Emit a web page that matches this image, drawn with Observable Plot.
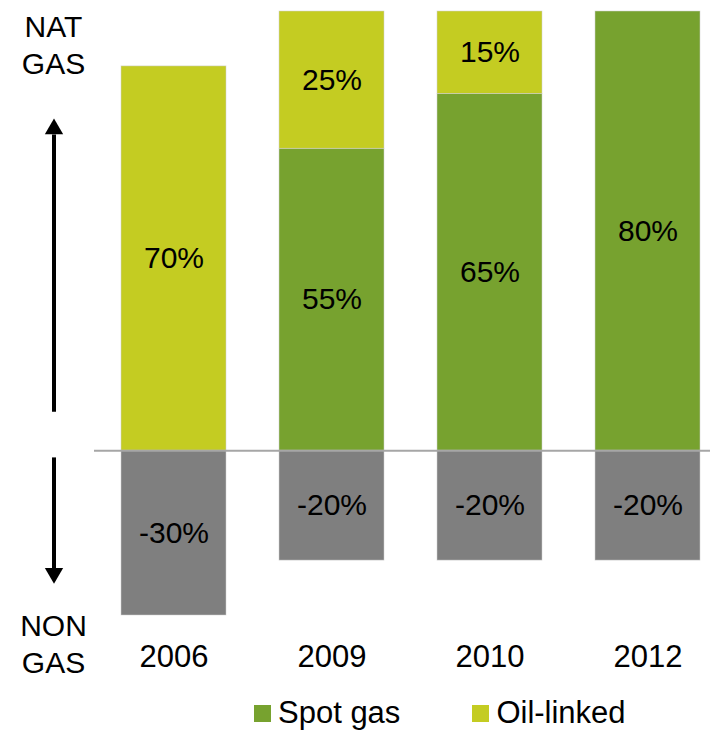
<!DOCTYPE html>
<html>
<head>
<meta charset="utf-8">
<script src="https://cdn.jsdelivr.net/npm/d3@7"></script>
<script src="https://cdn.jsdelivr.net/npm/@observablehq/plot@0.6"></script>
<style>
  html, body { margin: 0; padding: 0; background: #fff; }
  body { width: 710px; height: 731px; overflow: hidden; font-family: "Liberation Sans", Arial, sans-serif; }
  #chart svg { display: block; }
  #legend { display: flex; align-items: center; height: 46px; padding-left: 254px; font-size: 31px; color: #000; }
  #legend .item { display: flex; align-items: center; }
  #legend .sw { width: 17px; height: 17px; margin-right: 7px; }
</style>
</head>
<body>
<div id="chart"></div>
<div id="legend"></div>
<script>
// Data
const years = ["2006", "2009", "2010", "2012"];
const spotGas = [0, 55, 65, 80];
const oilLinked = [70, 25, 15, 0];
const nonGas = [-30, -20, -20, -20];
const seriesNames = ["Spot gas", "Oil-linked", "Non gas"];
const seriesColors = ["#77a22f", "#c4cc22", "#7f7f7f"];
const legendNames = ["Spot gas", "Oil-linked"];
const topLabel = "NAT\nGAS";
const bottomLabel = "NON\nGAS";
// arrow annotation extents (in % units)
const upArrow = {from: 7, to: 57.5, head: 58.6};
const downArrow = {from: -1.3, to: -21.8, head: -22.3};

const rows = years.flatMap((yr, i) => [
  {year: yr, type: "Spot gas", value: spotGas[i]},
  {year: yr, type: "Oil-linked", value: oilLinked[i]},
  {year: yr, type: "Non gas", value: nonGas[i]}
]).filter(d => d.value !== 0);

const stackOpts = {x: "year", y: "value", z: "type", order: seriesNames};

const chart = Plot.plot({
  width: 710,
  height: 690,
  marginTop: 11,
  marginBottom: 75,
  marginLeft: 120,
  marginRight: 8,
  style: {fontFamily: "'Liberation Sans', Arial, sans-serif", fontSize: "30px", background: "#fff"},
  x: {domain: years, paddingInner: 0.333, paddingOuter: 0, axis: null, label: null},
  y: {domain: [-30, 80], axis: null, label: null},
  color: {domain: seriesNames, range: seriesColors},
  marks: [
    Plot.barY(rows, {...stackOpts, fill: "type", stroke: "#d0d0d0", strokeWidth: 0.75, strokeOpacity: 0.7}),
    Plot.ruleY([0], {stroke: "#a6a6a6", strokeWidth: 2, insetLeft: -26, insetRight: -8}),
    Plot.text(rows, Plot.stackY({...stackOpts, text: d => d.value + "%", fill: "#000", fontSize: 30})),
    Plot.axisX({tickSize: 0, tickPadding: 29, fontSize: 31, fill: "#000", label: null}),
    // annotations
    Plot.text([topLabel], {frameAnchor: "top-left", textAnchor: "middle", lineAnchor: "top", dx: -67, dy: -1, lineHeight: 1.23, fontSize: 30, fill: "#000"}),
    Plot.text([bottomLabel], {frameAnchor: "bottom-left", textAnchor: "middle", lineAnchor: "top", dx: -67, dy: -6, lineHeight: 1.23, fontSize: 30, fill: "#000"}),
    Plot.ruleX([years[0]], {y1: upArrow.from, y2: upArrow.to, dx: -120, stroke: "#000", strokeWidth: 4}),
    Plot.dot([years[0]], {x: d => d, y: upArrow.head, symbol: "triangle", r: 6.8, fill: "#000", stroke: "none", dx: -120}),
    Plot.ruleX([years[0]], {y1: downArrow.from, y2: downArrow.to, dx: -120, stroke: "#000", strokeWidth: 4}),
    Plot.dot([years[0]], {x: d => d, y: downArrow.head, symbol: "triangle", rotate: 180, r: 6.8, fill: "#000", stroke: "none", dx: -120})
  ]
});
document.getElementById("chart").appendChild(chart);

const legend = document.getElementById("legend");
legendNames.forEach((name, i) => {
  const item = document.createElement("div");
  item.className = "item";
  if (i > 0) item.style.marginLeft = "72px";
  const sw = document.createElement("div");
  sw.className = "sw";
  sw.style.background = seriesColors[seriesNames.indexOf(name)];
  const label = document.createElement("span");
  label.textContent = name;
  item.appendChild(sw);
  item.appendChild(label);
  legend.appendChild(item);
});
</script>
</body>
</html>
